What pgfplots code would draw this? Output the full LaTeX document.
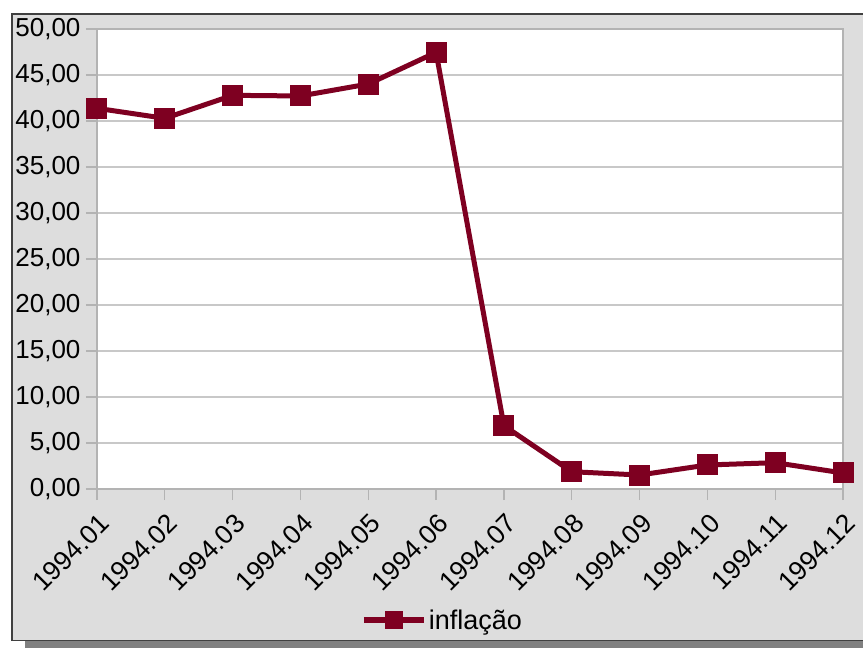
\documentclass[border=0pt]{standalone}
\usepackage{pgfplots}
\pgfplotsset{compat=1.18}
\usepackage{fontspec}
\setmainfont{Liberation Sans}
\definecolor{serie}{RGB}{126,0,33}
\definecolor{bg}{RGB}{221,221,221}
\definecolor{gridc}{RGB}{200,200,200}
\definecolor{axc}{RGB}{179,179,179}
\definecolor{shadow}{RGB}{128,128,128}
\definecolor{frame}{RGB}{64,64,64}
\begin{document}
\begin{tikzpicture}
\useasboundingbox (-97pt,-159pt) rectangle (766pt,489pt);
\fill[shadow] (-72pt,-152pt) rectangle (780pt,-165pt);
\fill[bg] (-85pt,475pt) rectangle (780pt,-151.5pt);
\draw[frame,line width=1.5pt] (780pt,475pt) -- (-85pt,475pt) -- (-85pt,-151.5pt) -- (780pt,-151.5pt);
\begin{axis}[
  at={(0pt,0pt)}, anchor=origin,
  scale only axis,
  width=746pt, height=460pt,
  xmin=0, xmax=11,
  ymin=0, ymax=50,
  ytick={0,5,...,50},
  xtick={0,...,11},
  xticklabels={1994.01,1994.02,1994.03,1994.04,1994.05,1994.06,1994.07,1994.08,1994.09,1994.10,1994.11,1994.12},
  axis background/.style={fill=white},
  axis line style={axc, line width=1.2pt},
  ymajorgrids, major grid style={gridc, line width=1.2pt},
  tick align=outside,
  major tick length=11pt,
  tick style={axc, line width=1.2pt},
  xtick pos=bottom, ytick pos=left,
  font=\fontsize{26}{30}\selectfont,
  /pgf/number format/assume math mode=true,
  /pgf/number format/fixed,
  /pgf/number format/fixed zerofill,
  /pgf/number format/precision=2,
  /pgf/number format/use comma,
  yticklabel style={xshift=-2pt},
  x tick label style={font=\fontsize{26.5}{30}\selectfont, xshift=1pt, yshift=-9pt, rotate=45, anchor=north east, inner sep=2pt},
  legend style={at={(0.463,-0.285)}, anchor=center, draw=none, fill=none,
    font=\fontsize{27}{30}\selectfont, inner sep=0pt},
  legend cell align=left,
  legend image code/.code={\draw[#1,line width=6pt] (-30pt,0pt) -- (30pt,0pt);
    \draw[#1, mark size=8.5pt] plot coordinates {(0pt,0pt)};},
  clip=false,
]
\addplot[serie, line width=5pt, mark=square*, mark size=10pt, mark options={solid,line width=0pt}] coordinates {
 (0,41.38) (1,40.29) (2,42.79) (3,42.72) (4,44.02) (5,47.46)
 (6,6.88) (7,1.88) (8,1.52) (9,2.61) (10,2.86) (11,1.74)
};
\addlegendentry{inflação}
\end{axis}
\end{tikzpicture}
\end{document}
